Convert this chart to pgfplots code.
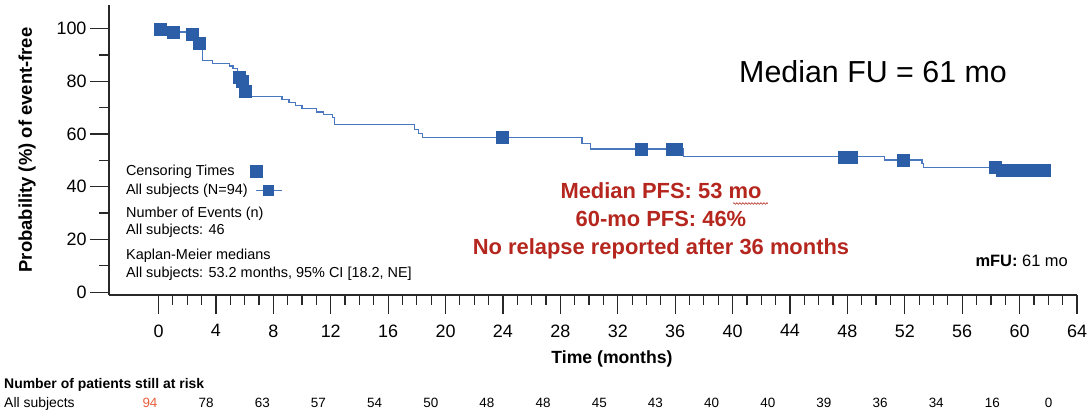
\documentclass[border=0pt]{standalone}
\usepackage{pgfplots}
\pgfplotsset{compat=1.18}
\usepackage{fontspec}
\setmainfont{Liberation Sans}
\usetikzlibrary{decorations.pathmorphing}

\definecolor{kmblue}{RGB}{43,94,167}
\definecolor{kmline}{RGB}{74,120,190}
\definecolor{pfsred}{RGB}{180,38,30}
\definecolor{riskorange}{RGB}{232,96,60}
\definecolor{axgray}{RGB}{40,40,40}

\begin{document}
\begin{tikzpicture}
\path[use as bounding box] (-109bp,-120bp) rectangle (982bp,295bp);

\begin{axis}[
    at={(0,0)}, anchor=south west,
    scale only axis, width=968bp, height=290bp,
    xmin=-3.45, xmax=64, ymin=-1.1, ymax=109,
    axis x line=bottom, axis y line=left,
    axis line style={-, axgray, line width=1.2bp},
    xtick={0,4,...,64}, ytick={0,20,...,100},
    minor x tick num=3, minor y tick num=1,
    tick align=outside,
    major tick length=19bp, minor tick length=9.5bp,
    tick style={axgray, line width=1.2bp},
    ticklabel style={font=\fontsize{18}{20}\selectfont},
    xticklabel style={yshift=-7bp},
    /pgf/number format/assume math mode=true,
    xlabel={Time (months)},
    ylabel={Probability (\%) of event-free},
    xlabel style={at={(axis description cs:0.5196,-0.2207)}, anchor=center,
        font=\bfseries\fontsize{17.7}{20}\selectfont},
    ylabel style={at={(axis description cs:-0.0847,0.5)}, anchor=center,
        font=\bfseries\fontsize{18.5}{20}\selectfont},
    clip=false,
    legend cell align=left,
    legend plot pos=right,
    legend style={at={(axis description cs:0.0176,0.45)}, anchor=north west,
        draw=none, fill=none, inner sep=0pt, outer sep=0pt,
        row sep=5.5bp, column sep=2bp,
        font=\fontsize{14.5}{17}\selectfont,
        nodes={inner sep=0pt, text height=10.5bp, text depth=3bp}},
]

% Kaplan-Meier step curve
\addplot[const plot, kmline, line width=1.3bp, forget plot] coordinates {
    (0,100) (0.8,98.8) (2.1,97.8) (2.7,94.5) (3.05,87.8) (3.75,86.7)
    (4.95,85.8) (5.2,84.8) (5.5,81.5) (5.75,80.0) (5.95,76.4) (6.15,74.2)
    (8.6,73.2) (9.1,72.0) (9.55,70.8) (10.0,69.6) (11.0,68.4) (11.5,67.3)
    (12.1,66.3) (12.25,63.6) (17.85,61.6) (18.1,60.3) (18.4,58.8)
    (29.5,56.5) (30.1,54.3) (36.6,51.4) (50.6,50.2) (53.2,48.9)
    (53.3,47.4) (58.4,46.1) (62.0,46.1)
};

% censoring times
\addplot[only marks, mark=square*, mark size=6bp,
    mark options={fill=kmblue, draw=kmblue},
    legend image code/.code={
        \path[draw=none, fill=none] (0bp,0bp) (32bp,0bp);
        \fill[kmblue] (0bp,-6bp) rectangle (12bp,6bp);
    }] coordinates {
    (0.1,100) (1.05,98.8) (2.35,97.8) (2.85,94.5)
    (5.65,81.5) (5.8,80.0) (6.05,76.4)
    (23.95,58.8) (33.65,54.3) (35.8,54.3) (36.1,54.3)
    (47.8,51.4) (48.3,51.4) (51.9,50.2) (58.3,47.4)
    (58.8,46.1) (59.2,46.1) (59.6,46.1) (60.0,46.1) (60.4,46.1)
    (60.8,46.1) (61.2,46.1) (61.7,46.1)
};
\addlegendentry{Censoring Times}

\addlegendimage{legend image code/.code={
    \draw[kmline, line width=1.2bp] (6.5bp,0bp) -- (32bp,0bp);
    \fill[kmblue] (13bp,-5bp) rectangle (23bp,5bp);
}}
\addlegendentry{All subjects (N=94)}

\end{axis}

\begin{scope}[x=1bp, y=-1bp, shift={(-109bp,295bp)}]
  \begin{scope}[every node/.style={inner sep=0pt, font=\fontsize{14.5}{17}\selectfont}]
    \node[anchor=base west] at (126,217.7) {Number of Events (n)};
    \node[anchor=base west] at (126,235) {All subjects: 46};
    \node[anchor=base west] at (126,259.3) {Kaplan-Meier medians};
    \node[anchor=base west] at (126,277.7) {All subjects: 53.2 months, 95\% CI [18.2, NE]};
  \end{scope}

  \node[anchor=base west, inner sep=0pt, font=\fontsize{30.5}{34}\selectfont]
      at (739,83) {Median FU = 61 mo};

  \begin{scope}[every node/.style={inner sep=0pt, anchor=base, text=pfsred,
        font=\bfseries\fontsize{22}{26}\selectfont}]
    \node at (661,199) {Median PFS: 53 mo};
    \node at (661,227) {60-mo PFS: 46\%};
    \node at (661,255) {No relapse reported after 36 months};
  \end{scope}
  \draw[pfsred, line width=0.6bp, decorate,
      decoration={snake, amplitude=0.8bp, segment length=3bp}] (733,203.5) -- (768,203.5);

  \node[anchor=base east, inner sep=0pt, font=\fontsize{16.5}{19}\selectfont]
      at (1068,267) {\textbf{mFU:} 61 mo};

  % at-risk table
  \node[anchor=base west, inner sep=0pt, font=\bfseries\fontsize{14}{16}\selectfont]
      at (4,389) {Number of patients still at risk};
  \node[anchor=base west, inner sep=0pt, font=\fontsize{14}{16}\selectfont]
      at (4,407.5) {All subjects};
  \node[anchor=base, inner sep=0pt, text=riskorange, font=\fontsize{13.5}{16}\selectfont]
      at (150,407.5) {94};
  \foreach \v [count=\i] in {78,63,57,54,50,48,48,45,43,40,40,39,36,34,16,0}
    \node[anchor=base, inner sep=0pt, font=\fontsize{13.5}{16}\selectfont]
      at ({150+56.16*\i},407.5) {\v};
\end{scope}
\end{tikzpicture}
\end{document}
